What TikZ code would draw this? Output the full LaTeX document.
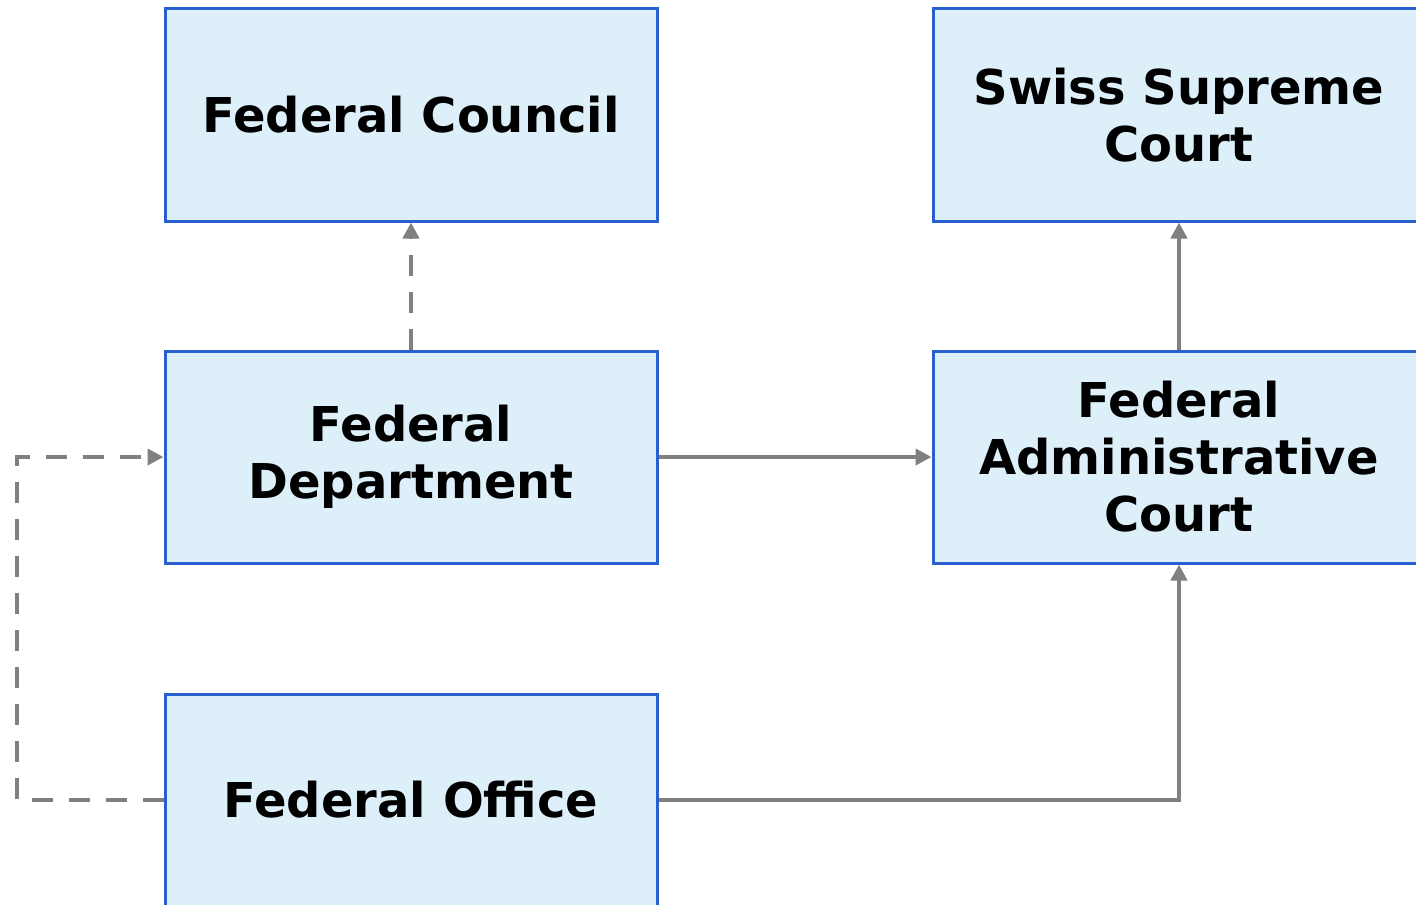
\documentclass[tikz,border=0pt]{standalone}
\usepackage{fontspec}
\setmainfont{DejaVu Sans}
\usetikzlibrary{arrows.meta, calc, positioning}
\definecolor{boxfill}{HTML}{DDF0FA}
\definecolor{boxline}{HTML}{2A5FD0}
\definecolor{linkgray}{HTML}{808080}

\begin{document}
\begin{tikzpicture}[x=0.5pt, y=-0.5pt,
        orgbox/.style={draw=boxline, fill=boxfill, line width=1.5pt, minimum width=246pt, minimum height=106pt,
            align=center, font=\bfseries\fontsize{24}{28.5}\selectfont},
        link/.style={draw=linkgray, line width=2.3pt, -{Triangle[length=8pt, width=8pt]}},
        dashlink/.style={link, dash pattern=on 10.5pt off 8pt}]
        \useasboundingbox (0,0) rectangle (1416,904);

        \node[orgbox] at (411,115) (council) {Federal Council};
        \node[orgbox] at (1179,115) (supreme) {Swiss Supreme\\Court};
        \node[orgbox] at (411,457) (dept) {Federal\\Department};
        \node[orgbox] at (1179,457) (admincourt) {Federal\\Administrative\\Court};
        \node[orgbox] at (411,800) (fedoffice) {Federal Office};
        \coordinate (leftrail) at (17,0);

        \draw[dashlink] (dept) -- (council);
        \draw[link] (dept) -- (admincourt);
        \draw[link] (admincourt) -- (supreme);
        \draw[link] (fedoffice.east) -| (admincourt.south);
        \draw[dashlink] (fedoffice.west) -- (fedoffice.west -| leftrail) |- (dept.west);
    \end{tikzpicture}
\end{document}
